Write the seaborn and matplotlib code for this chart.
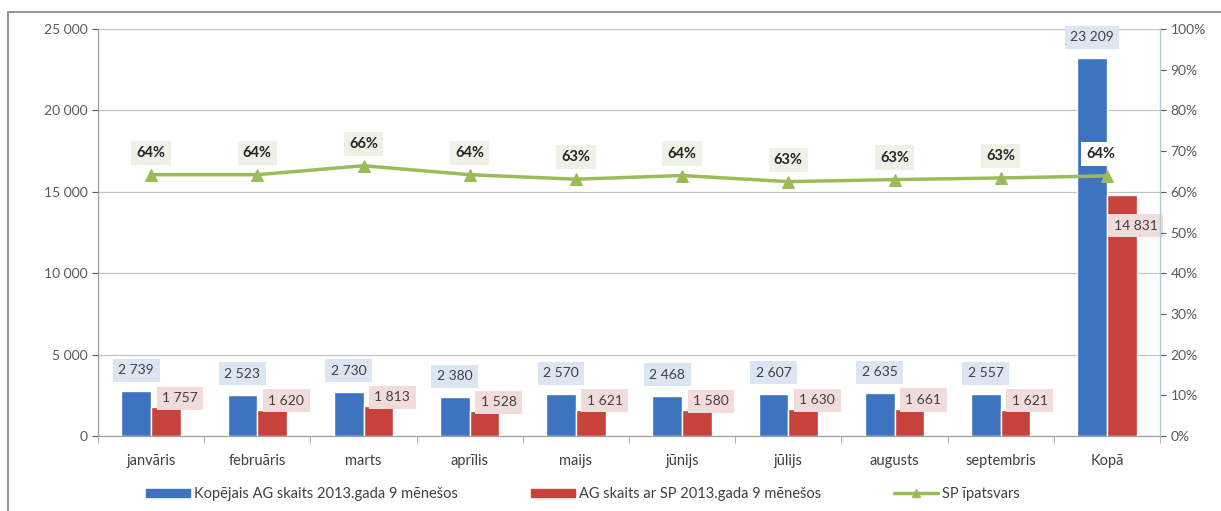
import numpy as np
import pandas as pd
import matplotlib.pyplot as plt
import seaborn as sns
from matplotlib.patches import Rectangle
from matplotlib.ticker import FuncFormatter, MultipleLocator

# ----------------------------------------------------------------------
# DATA
# ----------------------------------------------------------------------
months = ["janvāris", "februāris", "marts", "aprīlis", "maijs",
          "jūnijs", "jūlijs", "augusts", "septembris", "Kopā"]
total_ag = [2739, 2523, 2730, 2380, 2570, 2468, 2607, 2635, 2557, 23209]
ag_with_sp = [1757, 1620, 1813, 1528, 1621, 1580, 1630, 1661, 1621, 14831]
sp_share = [64.2, 64.2, 66.4, 64.2, 63.1, 64.0, 62.5, 63.0, 63.4, 63.9]
share_labels = ["64%", "64%", "66%", "64%", "63%", "64%", "63%", "63%", "63%", "64%"]

name_total = "Kopējais AG skaits 2013.gada 9 mēnešos"
name_sp = "AG skaits ar SP 2013.gada 9 mēnešos"
name_share = "SP īpatsvars"

BLUE = "#3E73C0"
RED = "#C8423C"
GREEN = "#9BBB59"
GRAY = "#595959"

df = pd.DataFrame({
    "month": months * 2,
    "series": [name_total] * len(months) + [name_sp] * len(months),
    "value": total_ag + ag_with_sp,
})

# ----------------------------------------------------------------------
# PLOT
# ----------------------------------------------------------------------
sns.set_style("white")
plt.rcParams["font.family"] = ["Lato", "DejaVu Sans"]

fig = plt.figure(figsize=(12.21, 5.11), dpi=100)
ax = fig.add_axes([98 / 1221, 1 - 436 / 511, 1062 / 1221, 407 / 511])

sns.barplot(data=df, x="month", y="value", hue="series",
            hue_order=[name_total, name_sp], palette=[BLUE, RED],
            width=0.56, gap=0, saturation=1, legend=False, ax=ax, zorder=3)

ax.set_xlim(-0.5, len(months) - 0.5)
ax.set_ylim(0, 25000)
ax.yaxis.set_major_locator(MultipleLocator(5000))
ax.yaxis.set_major_formatter(FuncFormatter(lambda v, p: f"{int(v):,}".replace(",", " ")))
ax.grid(axis="y", color="#c4c4c4", lw=0.9, zorder=0)
ax.set_axisbelow(True)
ax.set_xlabel("")
ax.set_ylabel("")
ax.tick_params(axis="y", colors=GRAY, labelsize=10, length=4, width=0.8, direction="out", left=True)
ax.tick_params(axis="x", colors=GRAY, labelsize=10.5, length=0, pad=13)
ax.set_xticks(np.arange(-0.5, len(months), 1), minor=True)
ax.tick_params(axis="x", which="minor", length=5, color="#a0a0a0", direction="out", bottom=True)
for lab in ax.get_xticklabels():
    lab.set_color("#404040")
for s in ["top", "right"]:
    ax.spines[s].set_visible(False)
for s in ["left", "bottom"]:
    ax.spines[s].set_color("#a0a0a0")
    ax.spines[s].set_linewidth(0.9)

# value labels
for bar, val in zip(ax.containers[0], total_ag):
    cx = bar.get_x() + bar.get_width() / 2
    ax.annotate(f"{val:,}".replace(",", " "), (cx, bar.get_height()),
                xytext=(0, 21), textcoords="offset pixels",
                ha="center", va="center", fontsize=10, color="#404040",
                bbox=dict(boxstyle="square,pad=0.4", fc="#dce6f2", ec="none"), zorder=5)
for i, (bar, val) in enumerate(zip(ax.containers[1], ag_with_sp)):
    cx = bar.get_x() + bar.get_width() / 2
    dy = 9 if i < len(months) - 1 else -31
    ax.annotate(f"{val:,}".replace(",", " "), (cx, bar.get_height()),
                xytext=(14, dy), textcoords="offset pixels",
                ha="center", va="center", fontsize=10, color="#404040",
                bbox=dict(boxstyle="square,pad=0.4", fc="#f2dcdb", ec="none"), zorder=5)

# share line on the secondary axis
ax2 = ax.twinx()
x_pos = np.arange(len(months))
sns.lineplot(x=x_pos, y=sp_share, color=GREEN, lw=2.5, marker="^", markersize=9,
             markeredgecolor=GREEN, ax=ax2, legend=False, zorder=6)
ax2.set_ylim(0, 100)
ax2.yaxis.set_major_locator(MultipleLocator(10))
ax2.yaxis.set_major_formatter(FuncFormatter(lambda v, p: f"{int(v)}%"))
ax2.tick_params(axis="y", colors=GRAY, labelsize=10, length=4, width=0.8, direction="out", right=True)
for s in ["top", "left", "bottom"]:
    ax2.spines[s].set_visible(False)
ax2.spines["right"].set_color("#a8cfd8")
ax2.spines["right"].set_linewidth(1.0)
for i, (xv, yv) in enumerate(zip(x_pos, sp_share)):
    fc = "#eef1e6" if i < len(months) - 1 else "#ffffff"
    dx = 0 if i < len(months) - 1 else -6
    ax2.annotate(share_labels[i], (xv, yv), xytext=(dx, 22), textcoords="offset pixels",
                 ha="center", va="center", fontsize=10.5, fontweight="bold", color="#262626",
                 bbox=dict(boxstyle="square,pad=0.35", fc=fc, ec="none"), zorder=7)

# legend
h_bar = [Rectangle((0, 0), 1, 1, color=BLUE), Rectangle((0, 0), 1, 1, color=RED)]
h_line = plt.Line2D([0], [0], color=GREEN, lw=2.5, marker="^", markersize=6)
leg = fig.legend(h_bar + [h_line], [name_total, name_sp, name_share],
                 loc="center", bbox_to_anchor=(583 / 1221, 1 - 494 / 511), ncol=3,
                 frameon=False, fontsize=10.5, handlelength=3.0, handleheight=0.5,
                 handletextpad=0.3, columnspacing=5.0)
for t in leg.get_texts():
    t.set_color("#404040")

# outer frame
fig.patches.append(Rectangle((8 / 1221, -0.02), 1.1, 1 - 12 / 511 + 0.02,
                             transform=fig.transFigure, fill=False,
                             edgecolor="#8c8c8c", lw=1.3))

plt.savefig("out.png", dpi=100)
plt.close()
